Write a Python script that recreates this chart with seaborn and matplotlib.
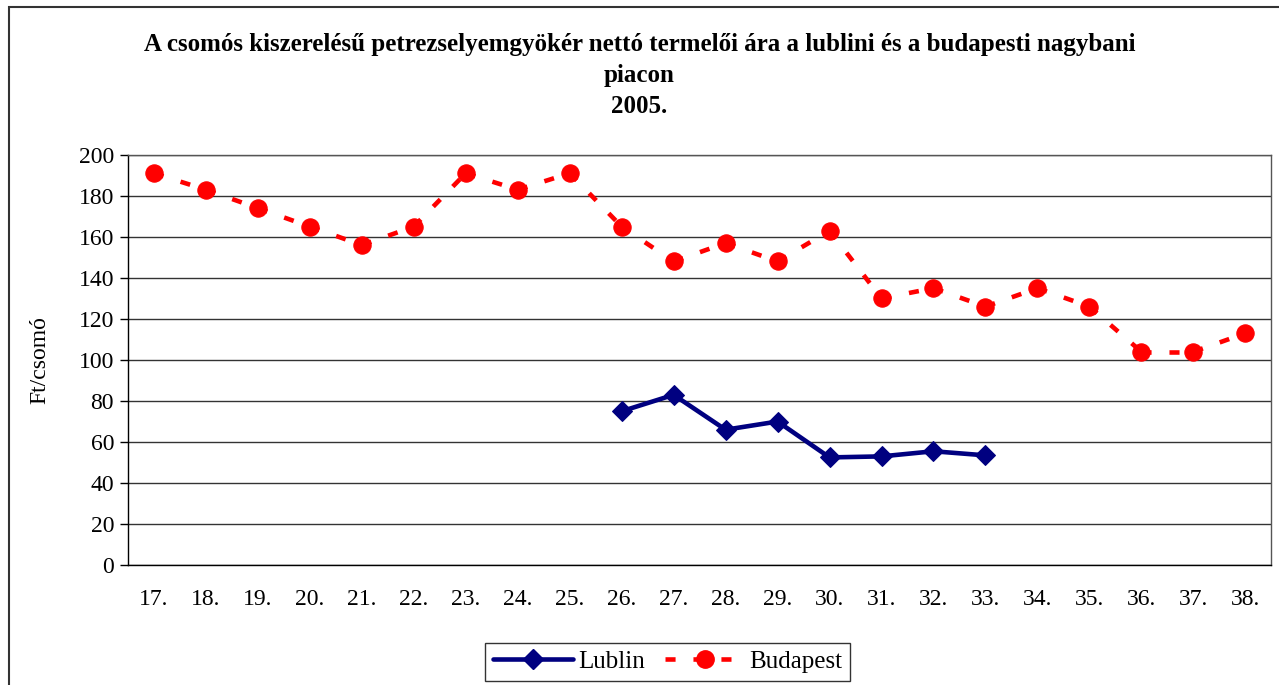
import matplotlib
matplotlib.use("Agg")
import matplotlib.pyplot as plt
import seaborn as sns
import pandas as pd
import numpy as np
from matplotlib.patches import Rectangle
from matplotlib.lines import Line2D

weeks = ["17.", "18.", "19.", "20.", "21.", "22.", "23.", "24.", "25.", "26.", "27.",
         "28.", "29.", "30.", "31.", "32.", "33.", "34.", "35.", "36.", "37.", "38."]
budapest = [191, 183, 174, 165, 156, 165, 191, 183, 191, 165, 148,
            157, 148, 163, 130, 135, 126, 135, 126, 104, 104, 113]
lublin_weeks = ["26.", "27.", "28.", "29.", "30.", "31.", "32.", "33."]
lublin = [75, 83, 66, 70, 52.5, 53, 55.5, 53.5]

title = "A csomós kiszerelésű petrezselyemgyökér nettó termelői ára a lublini és a budapesti nagybani\npiacon\n2005."
ylabel = "Ft/csomó"

sns.set_theme(style="white", rc={"text.color": "black", "axes.labelcolor": "black",
                                 "xtick.color": "black", "ytick.color": "black"})
plt.rcParams['font.family'] = ['Liberation Serif', 'DejaVu Serif']

pos = {w: i for i, w in enumerate(weeks)}
df_b = pd.DataFrame({"x": [pos[w] for w in weeks], "y": budapest})
df_l = pd.DataFrame({"x": [pos[w] for w in lublin_weeks], "y": lublin})

# segments so the dash pattern restarts at every point (as in Excel)
seg_rows = []
for i in range(len(df_b) - 1):
    seg_rows.append({"x": df_b.x[i], "y": df_b.y[i], "seg": i})
    seg_rows.append({"x": df_b.x[i + 1], "y": df_b.y[i + 1], "seg": i})
df_seg = pd.DataFrame(seg_rows)

red_lw = 3.3
dash = (0, (2.2, 3.9))
red = "#FF0000"
navy = "#000080"

fig = plt.figure(figsize=(12.79, 6.85), dpi=100)
ax = fig.add_axes([0.1, 0.175, 0.894, 0.599])

sns.lineplot(data=df_seg, x="x", y="y", units="seg", estimator=None, ax=ax,
             color=red, lw=red_lw, linestyle=dash, sort=False)
sns.lineplot(data=df_b, x="x", y="y", ax=ax, color=red, lw=0,
             marker="o", markersize=12.5, markeredgecolor=red, markerfacecolor=red)
sns.lineplot(data=df_l, x="x", y="y", ax=ax, color=navy, lw=3.3,
             marker="D", markersize=10, markeredgecolor=navy, markerfacecolor=navy)

ax.set_xlim(-0.5, len(weeks) - 0.5)
ax.set_ylim(0, 200)
ax.set_yticks(np.arange(0, 201, 20))
ax.set_xticks(np.arange(len(weeks)))
ax.set_xticklabels(weeks)
ax.set_xticks(np.arange(len(weeks) + 1) - 0.5, minor=True)
ax.tick_params(axis="x", which="major", length=0, pad=17, labelsize=17)
ax.tick_params(axis="x", which="minor", length=6, width=1, color="black", direction="out")
ax.tick_params(axis="y", length=6, width=1, color="black", direction="out", left=True,
               labelsize=17, pad=4)
ax.yaxis.grid(True, color="#333333", lw=1)
ax.set_axisbelow(True)
ax.set_xlabel("")
ax.set_ylabel(ylabel, fontsize=17, labelpad=20)
for s in ["left", "bottom"]:
    ax.spines[s].set_color("black")
    ax.spines[s].set_linewidth(1)
for s in ["top", "right"]:
    ax.spines[s].set_color("#555555")
    ax.spines[s].set_linewidth(1)

fig.text(0.5, 0.952, title, ha="center", va="top", fontsize=18, fontweight="bold",
         linespacing=1.45)

handles = [Line2D([], [], color=navy, lw=3.3, marker="D", markersize=10),
           Line2D([], [], color=red, lw=red_lw, linestyle=dash,
                  marker="o", markersize=12.5)]
leg = fig.legend(handles, ["Lublin", "Budapest"], loc="lower center",
                 bbox_to_anchor=(0.522, -0.012), ncol=2, frameon=True, fancybox=False,
                 fontsize=18, handlelength=3.2, columnspacing=0.8, handletextpad=0.2,
                 borderpad=0.3)
leg.get_frame().set_edgecolor("black")
leg.get_frame().set_linewidth(1)

fig.patches.append(Rectangle((9 / 1279, -0.05), 1.2, 0.05 + 1 - 7 / 685,
                             transform=fig.transFigure, fill=False,
                             edgecolor="#333333", lw=1.5))

fig.savefig("out.png", dpi=100)
